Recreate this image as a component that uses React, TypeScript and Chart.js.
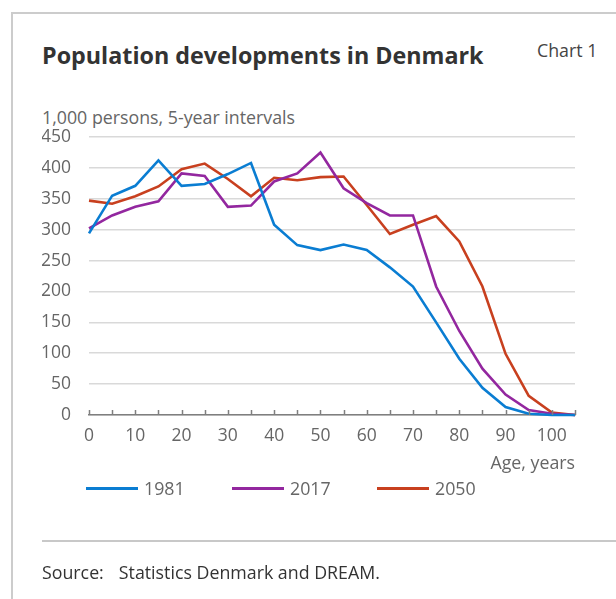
import React, { useEffect, useRef } from "react";
import { Chart, registerables } from "chart.js";

Chart.register(...registerables);

const ages = [0, 5, 10, 15, 20, 25, 30, 35, 40, 45, 50, 55, 60, 65, 70, 75, 80, 85, 90, 95, 100, 105];
const pop1981 = [294, 355, 371, 412, 371, 374, 390, 408, 308, 275, 267, 276, 267, 239, 208, 150, 91, 44, 13, 2, 0, 0];
const pop2017 = [302, 323, 337, 346, 391, 387, 337, 339, 378, 391, 425, 367, 343, 323, 323, 208, 136, 75, 33, 8, 2, 0];
const pop2050 = [347, 342, 354, 370, 398, 407, 382, 354, 384, 380, 385, 386, 340, 293, 308, 322, 281, 208, 99, 31, 4, 0];
const seriesNames = ["1981", "2017", "2050"];
const seriesColors = ["#0a7dd2", "#93279f", "#c8401f"];
const xTickLabels = [0, 10, 20, 30, 40, 50, 60, 70, 80, 90, 100];

const FONT = "'Open Sans', 'Noto Sans', sans-serif";
const FS = 17.8;
const TS = 17.5;

const tickMarks = {
  id: "tickMarks",
  afterDatasetsDraw(chart: any) {
    const x = chart.scales.x;
    const ctx = chart.ctx;
    const bottom = chart.chartArea.bottom;
    ctx.save();
    ctx.strokeStyle = "#7f7f7f";
    ctx.lineWidth = 1.5;
    for (const a of ages) {
      const px = Math.round(x.getPixelForValue(a)) + 0.5;
      ctx.beginPath();
      ctx.moveTo(px, bottom);
      ctx.lineTo(px, bottom - 5);
      ctx.stroke();
    }
    ctx.restore();
  },
};

function ChartCanvas() {
  const ref = useRef<HTMLCanvasElement | null>(null);
  useEffect(() => {
    if (!ref.current) return;
    const series = [pop1981, pop2017, pop2050];
    const chart = new Chart(ref.current, {
      type: "line",
      data: {
        datasets: series.map((s, i) => ({
          label: seriesNames[i],
          data: s.map((v, j) => ({ x: ages[j], y: v })),
          borderColor: seriesColors[i],
          backgroundColor: seriesColors[i],
          borderWidth: 2.6,
          pointRadius: 0,
          tension: 0,
          clip: false as any,
        })),
      },
      options: {
        animation: false,
        responsive: false,
        devicePixelRatio: 1,
        layout: { padding: { left: 42, right: 41, top: 137, bottom: 124 } },
        plugins: { legend: { display: false }, tooltip: { enabled: false } },
        scales: {
          x: {
            type: "linear",
            min: 0,
            max: 105,
            afterBuildTicks(scale: any) {
              scale.ticks = ages.map((v) => ({ value: v }));
            },
            afterFit(scale: any) {
              scale.height = 60;
            },
            ticks: {
              autoSkip: false,
              maxRotation: 0,
              padding: 11,
              color: "#666",
              font: { family: FONT, size: TS },
              callback: (v: any) => (xTickLabels.includes(Number(v)) ? String(v) : ""),
            },
            grid: { drawOnChartArea: false, drawTicks: false },
            border: { color: "#7f7f7f", width: 1.5 },
            title: {
              display: true,
              text: "Age, years",
              align: "end",
              color: "#666",
              font: { family: FONT, size: FS },
              padding: { top: 1, bottom: 0 },
            },
          },
          y: {
            min: 0,
            max: 450,
            ticks: {
              stepSize: 50,
              padding: 18,
              color: "#666",
              font: { family: FONT, size: TS },
            },
            afterFit(scale: any) {
              scale.width = 47;
            },
            grid: { color: "#d9d9d9", lineWidth: 1.5, drawTicks: false },
            border: { display: false },
          },
        },
      },
      plugins: [tickMarks],
    });
    return () => chart.destroy();
  }, []);
  return (
    <canvas
      ref={ref}
      width={616}
      height={599}
      style={{ position: "absolute", left: 0, top: 0, width: 616, height: 599 }}
    />
  );
}

export default function App() {
  const legendX = [86, 232, 377];
  return (
    <div
      style={{
        position: "absolute",
        left: 0,
        top: 0,
        width: 616,
        height: 599,
        background: "#fff",
        fontFamily: FONT,
        overflow: "hidden",
      }}
    >
      <div style={{ position: "absolute", left: 11, top: 12, width: 605, height: 1.5, background: "#cccccc" }} />
      <div style={{ position: "absolute", left: 11, top: 12, width: 1.5, height: 587, background: "#cccccc" }} />
      <div
        style={{
          position: "absolute",
          left: 42,
          top: 39,
          fontSize: 23.3,
          fontWeight: 700,
          color: "#333",
          whiteSpace: "nowrap",
          lineHeight: "32px",
        }}
      >
        Population developments in Denmark
      </div>
      <div style={{ position: "absolute", left: 537, top: 39, fontSize: FS, color: "#444", lineHeight: "22px" }}>
        Chart 1
      </div>
      <div style={{ position: "absolute", left: 42, top: 106, fontSize: FS, color: "#666", lineHeight: "22px", whiteSpace: "nowrap" }}>
        1,000 persons, 5-year intervals
      </div>
      <ChartCanvas />
      {seriesNames.map((n, i) => (
        <div key={n} style={{ position: "absolute", left: legendX[i], top: 477, height: 22, display: "flex", alignItems: "center" }}>
          <div style={{ width: 52, height: 3, background: seriesColors[i] }} />
          <div style={{ marginLeft: 6, fontSize: FS, color: "#666", lineHeight: "22px" }}>{n}</div>
        </div>
      ))}
      <div style={{ position: "absolute", left: 42, top: 540, width: 574, height: 1.5, background: "#c8c8c8" }} />
      <div style={{ position: "absolute", left: 42, top: 561, fontSize: FS, color: "#333", lineHeight: "22px", whiteSpace: "nowrap" }}>
        <span>Source:</span>
        <span style={{ marginLeft: 15 }}>Statistics Denmark and DREAM.</span>
      </div>
    </div>
  );
}
